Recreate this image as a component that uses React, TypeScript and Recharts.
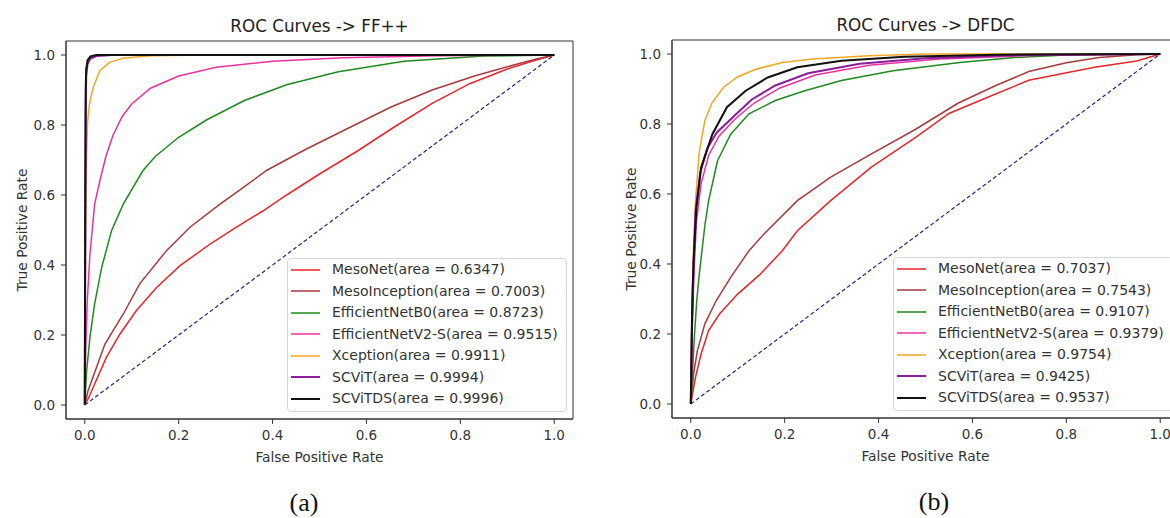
import React from 'react'
import { LineChart, Line, XAxis, YAxis, Legend, ReferenceArea } from 'recharts'

type Pt = [number, number]

const models = [
  'MesoNet',
  'MesoInception',
  'EfficientNetB0',
  'EfficientNetV2-S',
  'Xception',
  'SCViT',
  'SCViTDS',
]
const modelColors = ['#e8262a', '#a8393c', '#1f8a1f', '#e8339f', '#f5a623', '#8b1e9b', '#111111']
const modelWidths = [1.5, 1.5, 1.5, 1.5, 1.5, 2, 2]

const ffAuc = [0.6347, 0.7003, 0.8723, 0.9515, 0.9911, 0.9994, 0.9996]
const dfdcAuc = [0.7037, 0.7543, 0.9107, 0.9379, 0.9754, 0.9425, 0.9537]

const rateTicks = [0, 0.2, 0.4, 0.6, 0.8, 1.0]
const chance: Pt[] = [[0, 0], [1, 1]]

// FF++ curves (fpr, tpr)
const ffMesoNet: Pt[] = [
  [0, 0], [0.008, 0.02], [0.021, 0.06], [0.046, 0.136], [0.075, 0.203], [0.11, 0.27],
  [0.153, 0.336], [0.203, 0.398], [0.267, 0.46], [0.323, 0.508], [0.38, 0.555], [0.43, 0.6],
  [0.5, 0.66], [0.58, 0.725], [0.66, 0.795], [0.74, 0.862], [0.82, 0.918], [0.9, 0.96],
  [0.96, 0.985], [1, 1],
]
const ffMesoInception: Pt[] = [
  [0, 0], [0.007, 0.041], [0.043, 0.174], [0.082, 0.26], [0.117, 0.346], [0.174, 0.441],
  [0.224, 0.508], [0.288, 0.574], [0.338, 0.622], [0.387, 0.67], [0.47, 0.73], [0.56, 0.79],
  [0.65, 0.85], [0.74, 0.9], [0.83, 0.94], [0.91, 0.97], [0.96, 0.988], [1, 1],
]
const ffEffB0: Pt[] = [
  [0, 0], [0.004, 0.098], [0.011, 0.193], [0.021, 0.289], [0.036, 0.393], [0.057, 0.498],
  [0.082, 0.574], [0.124, 0.67], [0.15, 0.71], [0.2, 0.765], [0.26, 0.815], [0.34, 0.87],
  [0.43, 0.915], [0.54, 0.952], [0.68, 0.982], [0.85, 0.997], [1, 1],
]
const ffEffV2: Pt[] = [
  [0, 0], [0.002, 0.15], [0.005, 0.29], [0.011, 0.43], [0.021, 0.574], [0.032, 0.64],
  [0.045, 0.71], [0.06, 0.77], [0.08, 0.825], [0.1, 0.86], [0.14, 0.905], [0.2, 0.94],
  [0.28, 0.965], [0.4, 0.982], [0.55, 0.992], [0.75, 0.998], [1, 1],
]
const ffXception: Pt[] = [
  [0, 0], [0.001, 0.3], [0.002, 0.55], [0.004, 0.72], [0.006, 0.81], [0.01, 0.86],
  [0.018, 0.907], [0.032, 0.955], [0.053, 0.979], [0.082, 0.991], [0.14, 0.998], [0.25, 1], [1, 1],
]
const ffScvit: Pt[] = [
  [0, 0], [0.001, 0.5], [0.002, 0.85], [0.003, 0.94], [0.006, 0.975], [0.012, 0.99],
  [0.025, 0.997], [0.06, 1], [1, 1],
]
const ffScvitds: Pt[] = [
  [0, 0], [0.001, 0.6], [0.002, 0.9], [0.003, 0.96], [0.006, 0.985], [0.012, 0.996],
  [0.025, 1], [1, 1],
]

// DFDC curves
const dfMesoNet: Pt[] = [
  [0, 0], [0.01, 0.076], [0.022, 0.143], [0.038, 0.21], [0.061, 0.257], [0.1, 0.314],
  [0.148, 0.371], [0.195, 0.438], [0.227, 0.495], [0.298, 0.581], [0.384, 0.676],
  [0.479, 0.762], [0.55, 0.83], [0.63, 0.875], [0.72, 0.925], [0.86, 0.962], [0.95, 0.98], [1, 1],
]
const dfMesoInception: Pt[] = [
  [0, 0], [0.006, 0.086], [0.014, 0.152], [0.03, 0.229], [0.054, 0.295], [0.085, 0.362],
  [0.124, 0.438], [0.156, 0.486], [0.227, 0.581], [0.298, 0.648], [0.384, 0.714],
  [0.479, 0.785], [0.57, 0.86], [0.65, 0.91], [0.72, 0.95], [0.8, 0.975], [0.87, 0.99],
  [0.95, 0.998], [1, 1],
]
const dfEffB0: Pt[] = [
  [0, 0], [0.004, 0.1], [0.008, 0.2], [0.013, 0.3], [0.018, 0.37], [0.024, 0.44], [0.03, 0.51],
  [0.038, 0.581], [0.057, 0.695], [0.085, 0.771], [0.124, 0.829], [0.18, 0.867],
  [0.243, 0.895], [0.321, 0.924], [0.431, 0.952], [0.573, 0.976], [0.69, 0.99], [0.81, 0.998], [1, 1],
]
const dfEffV2: Pt[] = [
  [0, 0], [0.003, 0.22], [0.007, 0.38], [0.012, 0.52], [0.022, 0.63], [0.038, 0.71],
  [0.06, 0.765], [0.095, 0.815], [0.135, 0.86], [0.19, 0.903], [0.265, 0.94], [0.38, 0.968],
  [0.53, 0.986], [0.73, 0.996], [1, 1],
]
const dfXception: Pt[] = [
  [0, 0], [0.002, 0.2], [0.004, 0.35], [0.006, 0.45], [0.01, 0.58], [0.018, 0.72], [0.03, 0.81],
  [0.045, 0.86], [0.07, 0.905], [0.1, 0.935], [0.14, 0.957], [0.195, 0.976], [0.26, 0.986],
  [0.38, 0.995], [0.5, 1], [1, 1],
]
const dfScvit: Pt[] = [
  [0, 0], [0.003, 0.25], [0.006, 0.4], [0.01, 0.55], [0.02, 0.66], [0.035, 0.73], [0.055, 0.775],
  [0.094, 0.825], [0.13, 0.87], [0.18, 0.91], [0.25, 0.945], [0.36, 0.972], [0.5, 0.988],
  [0.7, 0.997], [1, 1],
]
const dfScvitds: Pt[] = [
  [0, 0], [0.002, 0.2], [0.004, 0.33], [0.006, 0.41], [0.012, 0.56], [0.022, 0.676],
  [0.046, 0.771], [0.077, 0.848], [0.117, 0.895], [0.164, 0.933], [0.227, 0.962],
  [0.321, 0.981], [0.455, 0.992], [0.65, 0.998], [1, 1],
]

const ffCurves = [ffMesoNet, ffMesoInception, ffEffB0, ffEffV2, ffXception, ffScvit, ffScvitds]
const dfdcCurves = [dfMesoNet, dfMesoInception, dfEffB0, dfEffV2, dfXception, dfScvit, dfScvitds]

const FONT = '"DejaVu Sans", sans-serif'
const INK = '#333'

const toRows = (pts: Pt[]) => pts.map(([x, y]) => ({ x, y }))

function AxisTitle({ tx, ty, text, vertical }: { tx: number; ty: number; text: string; vertical?: boolean }) {
  return (
    <text
      x={tx}
      y={ty}
      textAnchor="middle"
      fill={INK}
      fontSize={13.8}
      fontFamily={FONT}
      transform={vertical ? `rotate(-90 ${tx} ${ty})` : undefined}
    >
      {text}
    </text>
  )
}

interface Item {
  label: string
  color: string
  width: number
}

function LegendBox({ items }: { items: Item[] }) {
  return (
    <div
      style={{
        boxSizing: 'border-box',
        width: 280,
        height: 154,
        border: '1px solid #d6d6d6',
        borderRadius: 4,
        background: 'rgba(255,255,255,0.85)',
        padding: '0 0 0 3px',
        fontFamily: FONT,
        fontSize: 14,
        color: INK,
      }}
    >
      {items.map((it) => (
        <div key={it.label} style={{ display: 'flex', alignItems: 'center', height: 21.5 }}>
          <svg width={29} height={6} style={{ marginRight: 12, flex: 'none' }}>
            <line x1={0} y1={3} x2={29} y2={3} stroke={it.color} strokeWidth={it.width} />
          </svg>
          <span style={{ whiteSpace: 'nowrap', lineHeight: '21.5px' }}>{it.label}</span>
        </div>
      ))}
    </div>
  )
}

interface PanelProps {
  title: string
  curves: Pt[][]
  auc: number[]
  caption: string
  captionX: number
  yLabelX: number
  left: number
  top: number
}

function RocPanel({ title, curves, auc, caption, captionX, yLabelX, left, top }: PanelProps) {
  const items: Item[] = models.map((m, i) => ({
    label: `${m}(area = ${auc[i].toFixed(4)})`,
    color: modelColors[i],
    width: modelWidths[i],
  }))

  return (
    <div style={{ position: 'absolute', left, top, width: 606, height: 518 }}>
      <LineChart width={606} height={518} margin={{ top: 41, right: 33, bottom: 69, left: 16 }}>
        <XAxis
          type="number"
          dataKey="x"
          domain={[-0.04, 1.04]}
          allowDataOverflow
          ticks={rateTicks}
          interval={0}
          tickFormatter={(v: number) => v.toFixed(1)}
          height={30}
          tickSize={5}
          tickMargin={6}
          stroke={INK}
          tick={{ fill: INK, fontSize: 13.5, fontFamily: FONT }}
          label={<AxisTitle tx={319.5} ty={461.5} text="False Positive Rate" />}
        />
        <YAxis
          type="number"
          domain={[-0.04, 1.04]}
          allowDataOverflow
          ticks={rateTicks}
          interval={0}
          tickFormatter={(v: number) => v.toFixed(1)}
          width={50}
          tickSize={5}
          tickMargin={6}
          stroke={INK}
          tick={{ fill: INK, fontSize: 13.5, fontFamily: FONT }}
          label={<AxisTitle tx={yLabelX} ty={230} text="True Positive Rate" vertical />}
        />
        <ReferenceArea x1={-0.04} x2={1.04} y1={-0.04} y2={1.04} fill="none" stroke={INK} strokeWidth={1} />
        {curves.map((pts, i) => (
          <Line
            key={models[i]}
            name={models[i]}
            data={toRows(pts)}
            dataKey="y"
            type="linear"
            stroke={modelColors[i]}
            strokeWidth={modelWidths[i]}
            dot={false}
            activeDot={false}
            isAnimationActive={false}
          />
        ))}
        <Line
          name="chance"
          data={toRows(chance)}
          dataKey="y"
          type="linear"
          stroke="#23238e"
          strokeWidth={1.2}
          strokeDasharray="4 2.5"
          dot={false}
          activeDot={false}
          legendType="none"
          isAnimationActive={false}
        />
        <Legend
          layout="vertical"
          align="center"
          verticalAlign="middle"
          content={() => <LegendBox items={items} />}
          wrapperStyle={{ left: 287, top: 258, width: 280, height: 154 }}
        />
      </LineChart>
      <div
        style={{
          position: 'absolute',
          left: 0,
          width: 639,
          top: 15,
          textAlign: 'center',
          fontFamily: FONT,
          fontSize: 16.8,
          color: '#222',
          lineHeight: '22px',
        }}
      >
        {title}
      </div>
      <div
        style={{
          position: 'absolute',
          left: captionX - 40,
          width: 80,
          top: 489,
          textAlign: 'center',
          fontFamily: '"Liberation Serif", serif',
          fontSize: 26,
          color: '#111',
          lineHeight: '28px',
        }}
      >
        {caption}
      </div>
    </div>
  )
}

export default function App() {
  return (
    <div
      style={{
        position: 'absolute',
        left: 0,
        top: 0,
        width: 1170,
        height: 518,
        overflow: 'hidden',
        background: '#fff',
        fontFamily: FONT,
      }}
    >
      <RocPanel
        title="ROC Curves -> FF++"
        curves={ffCurves}
        auc={ffAuc}
        caption="(a)"
        captionX={304}
        yLabelX={27}
        left={0}
        top={0}
      />
      <RocPanel
        title="ROC Curves -> DFDC"
        curves={dfdcCurves}
        auc={dfdcAuc}
        caption="(b)"
        captionX={328}
        yLabelX={30}
        left={606}
        top={-1}
      />
    </div>
  )
}
